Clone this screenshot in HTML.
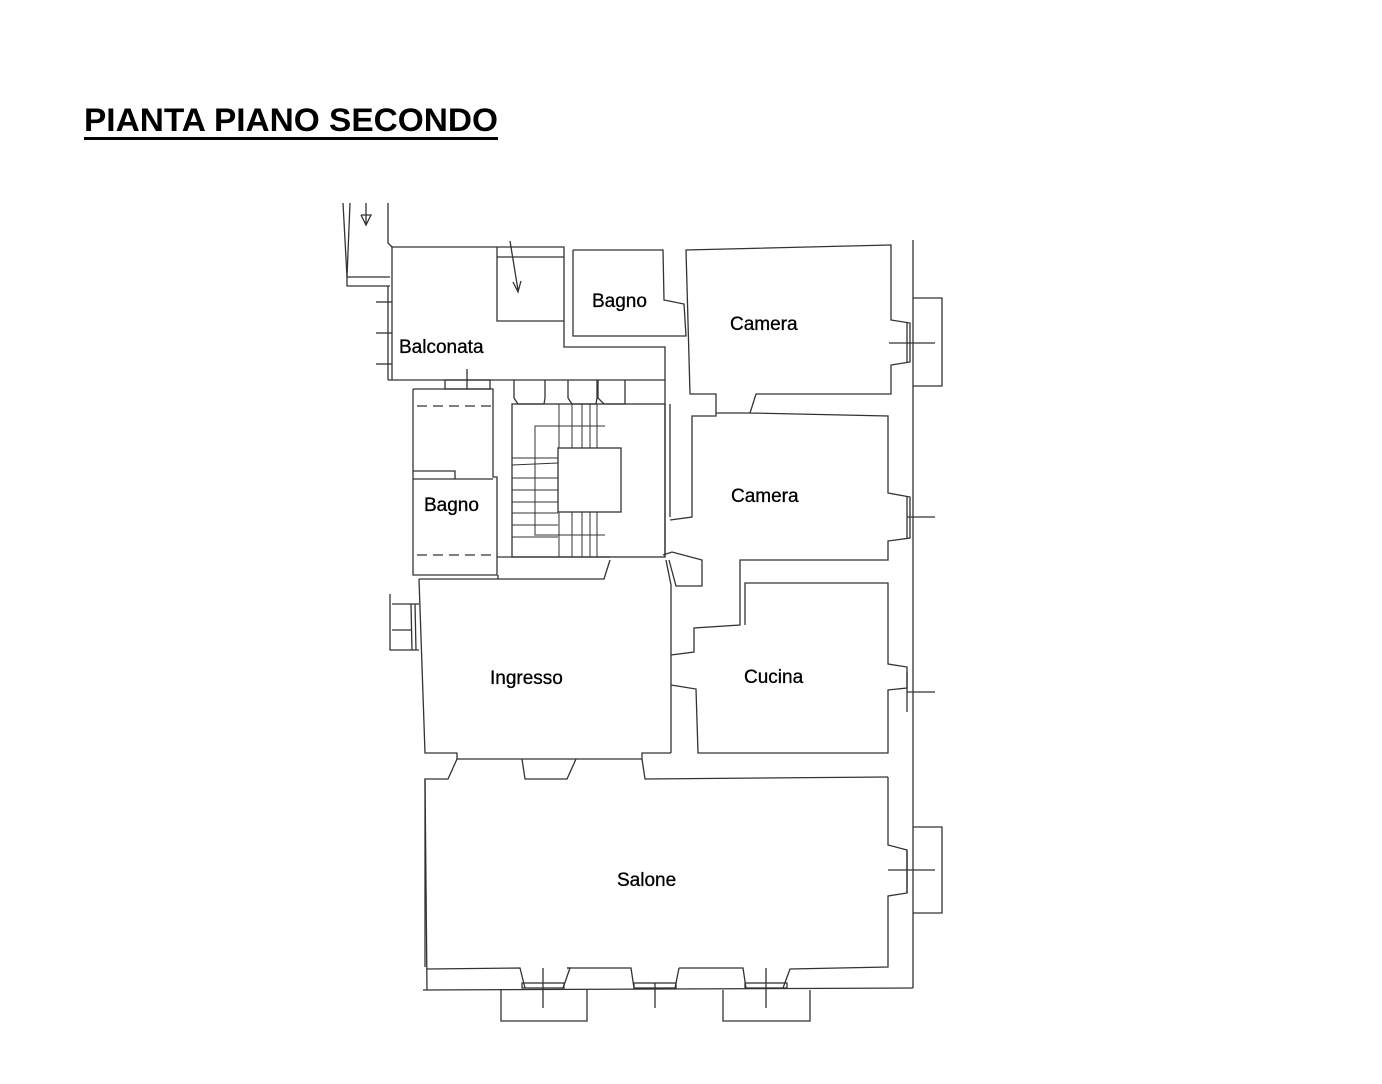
<!DOCTYPE html>
<html><head><meta charset="utf-8"><style>
html,body{margin:0;padding:0;background:#fff;width:1382px;height:1084px;overflow:hidden}
svg{position:absolute;left:0;top:0}
</style></head><body>
<svg width="1382" height="1084" viewBox="0 0 1382 1084" xmlns="http://www.w3.org/2000/svg">
<text x="84" y="131" font-family="Liberation Sans, sans-serif" font-weight="bold" font-size="32" textLength="414" lengthAdjust="spacingAndGlyphs" fill="#000">PIANTA PIANO SECONDO</text>
<rect x="84" y="137" width="414" height="3" fill="#000"/>
<g fill="none" stroke="#333" stroke-width="1.3">
<!-- chimney -->
<polyline points="343,203 347,277 347,286 390,286"/>
<polyline points="350,203 347,277 390,277"/>
<polyline points="388,203 388,243 392,247"/>
<line x1="366" y1="203" x2="366" y2="225"/>
<polyline points="361,215 366,225 371,215 361,215"/>
<!-- balconata -->
<polyline points="392,247 564,247 564,347 665,347 665,404"/>
<line x1="392" y1="247" x2="392" y2="380"/>
<line x1="388" y1="286" x2="388" y2="380"/>
<line x1="376" y1="302" x2="392" y2="302"/><line x1="376" y1="333" x2="392" y2="333"/><line x1="376" y1="364" x2="392" y2="364"/>
<line x1="388" y1="380" x2="665" y2="380"/>
<polyline points="497,247 497,321 564,321"/>
<line x1="497" y1="257" x2="564" y2="257"/>
<line x1="510" y1="241" x2="518" y2="290"/>
<polyline points="513,282 518,292 521,281"/>
<line x1="467" y1="369" x2="467" y2="389"/>
<rect x="445" y="380" width="45" height="9"/>
<!-- ledge blocks -->
<polyline points="514,380 514,398 518,404 544,404 545,398 545,380"/>
<polyline points="568,380 568,398 572,404 596,404 597,398 597,380"/>
<polyline points="598,380 598,398 604,404 625,404 625,380"/>
<!-- top bagno -->
<polyline points="573,250 663,250 664,300 684,304 686,336 573,336 573,250"/>
<!-- stairs -->
<rect x="512" y="404" width="153" height="153"/>
<rect x="558" y="448" width="63" height="64"/>
<g stroke-width="1">
<line x1="559" y1="404" x2="559" y2="448"/><line x1="572" y1="404" x2="572" y2="448"/><line x1="582" y1="404" x2="582" y2="448"/><line x1="590" y1="404" x2="590" y2="448"/><line x1="597" y1="404" x2="597" y2="448"/>
<line x1="559" y1="512" x2="559" y2="557"/><line x1="572" y1="512" x2="572" y2="557"/><line x1="582" y1="512" x2="582" y2="557"/><line x1="590" y1="512" x2="590" y2="557"/><line x1="597" y1="512" x2="597" y2="557"/>
<line x1="512" y1="458" x2="558" y2="458"/><line x1="512" y1="465" x2="558" y2="463"/><line x1="512" y1="478" x2="558" y2="478"/><line x1="512" y1="490" x2="558" y2="490"/><line x1="512" y1="502" x2="558" y2="502"/><line x1="512" y1="513" x2="558" y2="513"/><line x1="512" y1="525" x2="558" y2="525"/><line x1="512" y1="537" x2="558" y2="537"/>
<polyline points="605,426 535,426 535,535 605,535"/>
</g>
<!-- left bagno -->
<polyline points="413,389 493,389 493,477 497,477 497,575 413,575 413,389"/>
<line x1="413" y1="479" x2="493" y2="479"/>
<polyline points="413,471 455,471 455,479"/>
<line x1="417" y1="406" x2="493" y2="406" stroke-dasharray="10,6"/>
<line x1="417" y1="555" x2="493" y2="555" stroke-dasharray="10,6"/>
<line x1="497" y1="557" x2="610" y2="557"/>
<polyline points="498,575 498,579 604,579 610,560"/>
<!-- ingresso -->
<polyline points="419,579 498,579"/>
<polyline points="419,579 425,753 457,753 457,759 642,759 642,753 671,753"/>
<polyline points="457,759 448,779 425,779 427,990"/>
<line x1="425" y1="779" x2="425" y2="967"/>
<polyline points="522,759 525,779 567,779 576,759"/>
<polyline points="642,759 645,779 888,777"/>
<polyline points="666,560 671,585 671,753"/>
<!-- left small window -->
<polyline points="390,594 390,650 419,650"/><line x1="392" y1="604" x2="419" y2="604"/><line x1="392" y1="630" x2="412" y2="630"/>
<line x1="411" y1="604" x2="412" y2="650"/><line x1="415" y1="604" x2="416" y2="650"/>
<!-- corridor / stair right -->
<polyline points="665,404 665,557"/>
<polyline points="670,404 670,517"/>
<polyline points="670,520 692,517 692,416 716,416 716,394 690,394 686,250 891,245 891,320 910,323 910,362 891,365 891,394 756,394 750,413 888,416 888,493 910,497 910,538 888,541 888,560 740,560 740,625 694,628 694,652 671,655"/>
<polyline points="663,555 672,552 702,560 702,586 676,586 669,560"/>
<polyline points="671,685 696,689 698,753 888,753 888,690 907,688 907,667 888,664 888,583 745,583 745,625"/>
<polyline points="716,413 750,413"/>
<!-- right outer wall -->
<line x1="913" y1="240" x2="913" y2="988"/>
<polyline points="913,298 942,298 942,386 913,386"/>
<polyline points="913,827 942,827 942,913 913,913"/>
<line x1="889" y1="343" x2="935" y2="343"/><line x1="907" y1="323" x2="907" y2="362"/>
<line x1="907" y1="517" x2="935" y2="517"/><line x1="907" y1="497" x2="907" y2="538"/>
<line x1="907" y1="692" x2="935" y2="692"/><line x1="907" y1="672" x2="907" y2="712"/>
<!-- salone -->
<polyline points="888,777 888,845 907,850 907,893 888,896 888,967 790,969 783,988"/>
<line x1="888" y1="870" x2="935" y2="870"/><line x1="907" y1="850" x2="907" y2="893"/>
<polyline points="427,969 520,968 525,988"/>
<polyline points="567,968 570,968 563,988"/>
<polyline points="567,968 631,968 634,988"/>
<polyline points="679,968 675,988"/>
<polyline points="679,968 743,968 746,988"/>
<polyline points="423,990 913,988"/>
<rect x="522" y="983" width="42" height="5"/><rect x="634" y="983" width="42" height="5"/><rect x="745" y="983" width="42" height="5"/>
<polyline points="501,990 501,1021 587,1021 587,990"/>
<polyline points="723,990 723,1021 810,1021 810,990"/>
<line x1="543" y1="968" x2="543" y2="1008"/><line x1="655" y1="983" x2="655" y2="1008"/><line x1="766" y1="968" x2="766" y2="1008"/>
</g>
<g font-family="Liberation Sans, sans-serif" font-size="19" fill="#000" stroke="#000" stroke-width="0.3">
<text x="592" y="307">Bagno</text>
<text x="730" y="330">Camera</text>
<text x="399" y="353">Balconata</text>
<text x="731" y="502">Camera</text>
<text x="424" y="511">Bagno</text>
<text x="490" y="684">Ingresso</text>
<text x="744" y="683">Cucina</text>
<text x="617" y="886">Salone</text>
</g>
</svg>
</body></html>
